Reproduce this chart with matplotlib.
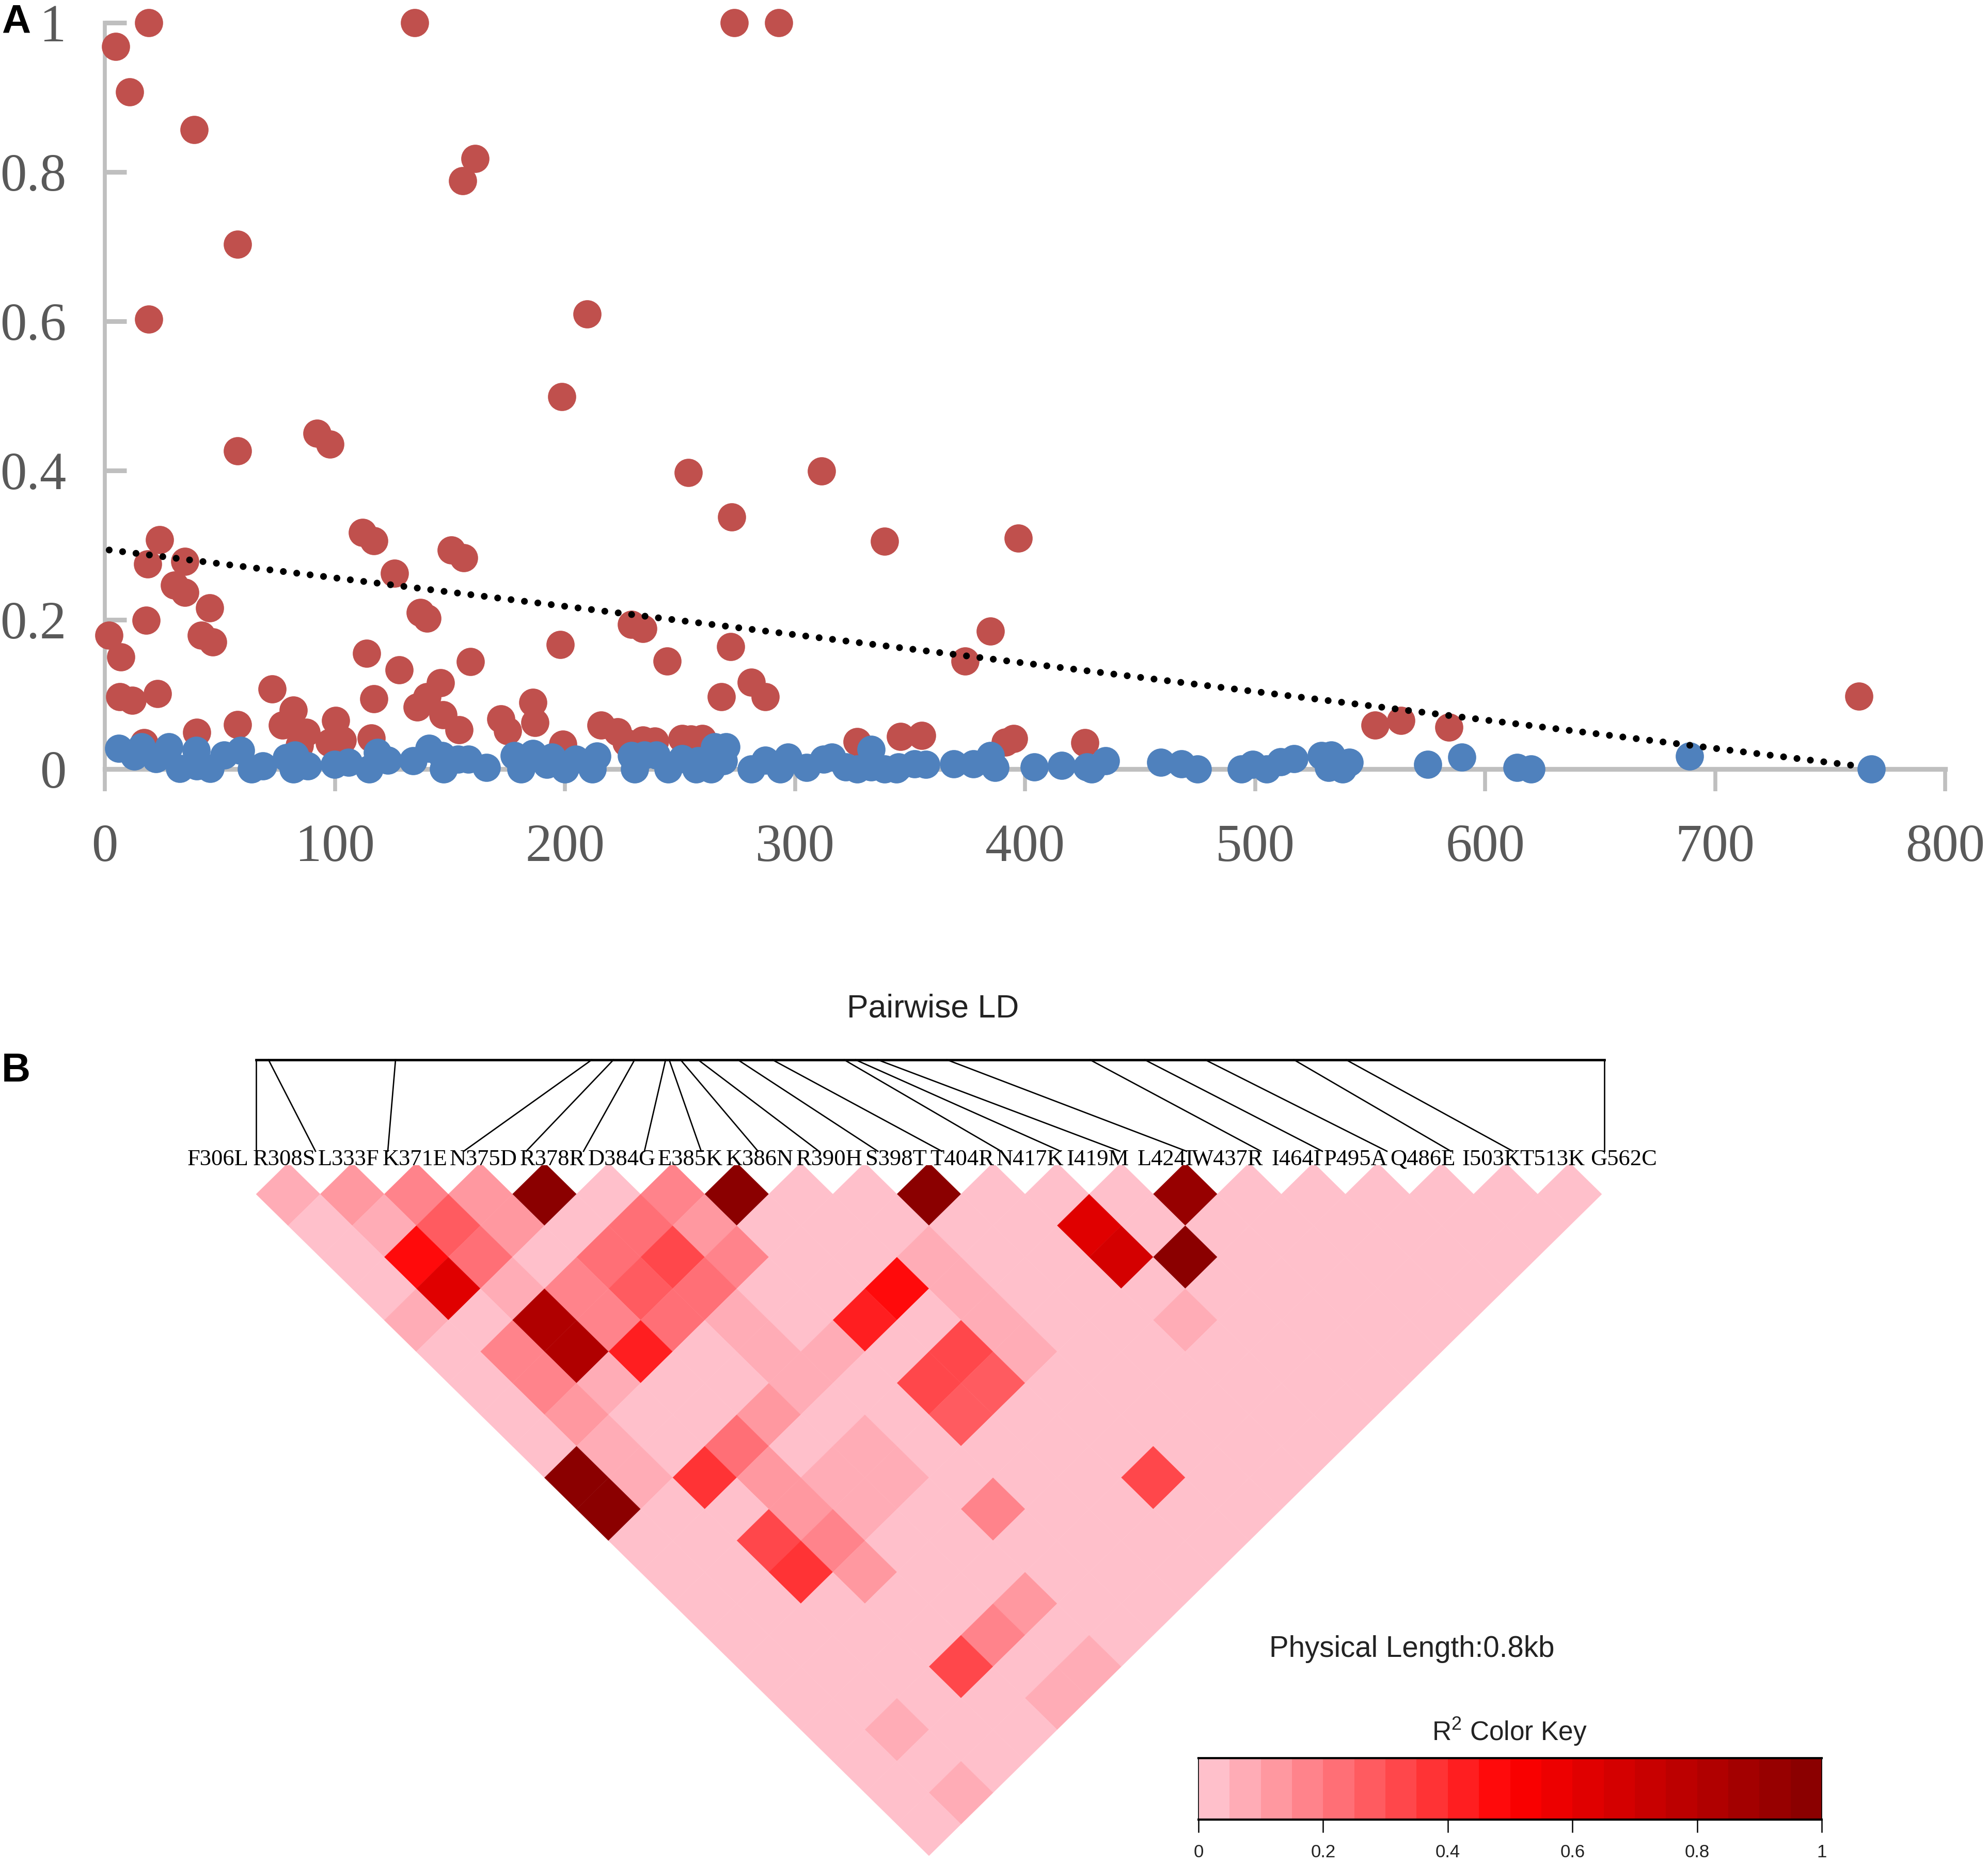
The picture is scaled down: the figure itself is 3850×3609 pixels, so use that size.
"""Panel A: LD decay scatter. Panel B: pairwise LD heatmap with colour key."""
import matplotlib
matplotlib.use("Agg")
import matplotlib.pyplot as plt
import numpy as np
from matplotlib.collections import PolyCollection
from matplotlib.colors import LinearSegmentedColormap

W, H = 3850, 3609

# ---- panel A data ----
red_x = [4.7, 19, 10.7, 38.8, 134.7, 273.6, 292.9, 161, 155.6, 57.6, 19, 209.6,
         198.7, 57.6, 92.3, 97.8, 253.7, 311.6, 272.5, 23.8, 18.6, 34.8, 30.2,
         34.8, 45.6, 17.9, 1.9, 6.9, 41.9, 46.9, 6.5, 12, 22.9, 17.1, 40, 57.7,
         72.8, 81.9, 77.2, 87.5, 100.3, 103.3, 97.7, 84.7, 111.9, 116.9, 150.7,
         156, 126, 137.2, 140, 113.9, 127.9, 159, 116.9, 146, 140, 135.9, 147,
         153.9, 115.8, 172.2, 175, 186, 187, 199, 215.7, 223, 226.6, 234, 239,
         251, 254.7, 259.8, 268, 281, 287, 327, 346, 355, 391.4, 395, 426, 198,
         228.9, 234, 244.4, 339, 397, 385, 374, 272, 552.3, 563.4, 584.3, 762.5]
red_y = [.968, 1, .907, .857, 1, 1, 1, .818, .788, .703, .603, .61,
         .499, .426, .45, .435, .397, .399, .338, .307, .275, .278, .2465,
         .237, .2156, .199, .179, .15, .179, .1705, .097, .092, .101, .0355, .049, .0596,
         .107, .079, .0587, .049, .065, .0386, .0355, .032, .317, .306, .2935,
         .2827, .262, .21, .202, .155, .133, .1437, .094, .1158, .097, .083, .073,
         .0525, .0417, .067, .051, .089, .062, .033, .059, .0496, .035, .0385, .0374,
         .041, .04, .041, .097, .116, .097, .037, .0436, .045, .036, .041, .035, .1668,
         .194, .188, .1446, .305, .3095, .185, .1446, .1637, .059, .065, .056, .0973]

blue_x = [5.95, 12.8, 16, 22.3, 27.8, 32.6, 39.7, 40, 45.8, 51.8, 59, 63.8, 68.7,
          79, 82.5, 82, 88.2, 99.9, 106, 114.9, 118.5, 122.9, 134, 140.9, 147.2,
          146.6, 153.5, 158, 165.9, 178, 181, 186, 192.2, 194.5, 200, 204.8, 214,
          212, 229, 230.3, 234.6, 239.8, 245, 251, 257, 263.6, 258, 265, 270, 269,
          281, 287, 293.6, 297, 305, 312.5, 316, 322, 327, 333, 333, 339, 345, 344,
          352, 357, 369, 377.6, 385, 387, 404, 416, 429, 427, 435, 459, 468, 475,
          494, 499, 505, 511, 517, 528.8, 533, 532, 541, 538, 575, 590, 614, 620,
          689, 768]
blue_y = [.028, .017, .03, .014, .03, .0005, .025, .004, .001, .019, .025, 0, .004,
          .015, .019, 0, .004, .006, .009, 0, .022, .012, .011, .028, 0,
          .018, .013, .013, .002, .018, 0, .021, .006, .016, 0, .013, .017,
          0, .018, 0, .019, .019, 0, .014, 0, 0, .011, .03, .03, .011,
          0, .012, 0, .016, .002, .013, .016, .003, 0, .026, .003, 0, .003, 0,
          .007, .006, .007, .007, .018, .002, .003, .005, 0, .003, .011, .009, .007, 0,
          0, .006, 0, .01, .014, .018, .019, .002, .009, 0, .006, .016, .002, 0,
          .017, 0]

trend_x = [1.9, 759.6]
trend_y = [.2935, .005]

x_ticks = [0, 100, 200, 300, 400, 500, 600, 700, 800]
y_ticks = [0, .2, .4, .6, .8, 1]
y_tick_labels = ["0", "0.2", "0.4", "0.6", "0.8", "1"]

# ---- panel B data ----
snp_names = ["F306L", "R308S", "L333F", "K371E", "N375D", "R378R", "D384G", "E385K",
             "K386N", "R390H", "S398T", "T404R", "N417K", "I419M", "L424I", "W437R",
             "I464I", "P495A", "Q486E", "I503K", "T513K", "G562C"]
# where each SNP sits on the physical-length bar, and where its label sits
bar_px = [496, 520, 766, 1146, 1188, 1229, 1289, 1296, 1318, 1352, 1429, 1496, 1635,
          1657, 1700, 1834, 2111, 2217, 2334, 2506, 2607, 3107]
link_end_px = [496, 611, 751, 898, 1019, 1130, 1248, 1358, 1468, 1586, 1700, 1824,
               1939, 2054, 2169, 2298, 2442, 2561, 2686, 2810, 2930, 3107]
label_px = [422, 550, 675, 804, 936, 1070, 1204, 1337, 1471, 1606, 1735, 1863, 1995,
            2126, 2257, 2377, 2511, 2626, 2755, 2888, 3006, 3145]

BASE_R2 = .02
# non-background cells only: first SNP index, distance to second SNP, r2
pair_first = [0, 1, 2, 3, 4, 6, 7, 10, 14,
              1, 2, 3, 5, 6, 12,
              1, 2, 4, 5, 6, 9, 12, 13,
              1, 2, 3, 4, 5, 8, 9,
              0, 2, 3, 4, 5, 7, 9, 12,
              1, 2, 3, 5, 6, 8, 9,
              1, 2, 5, 7, 8,
              1, 4, 7,
              1, 3, 5,
              0, 1, 2, 3, 4, 5, 9,
              0, 3, 4, 6,
              2, 3,
              2, 3,
              5, 4, 3, 5, 4, 1, 1]
pair_span = [1, 1, 1, 1, 1, 1, 1, 1, 1,
             2, 2, 2, 2, 2, 2,
             3, 3, 3, 3, 3, 3, 3, 3,
             4, 4, 4, 4, 4, 4, 4,
             5, 5, 5, 5, 5, 5, 5, 5,
             6, 6, 6, 6, 6, 6, 6,
             7, 7, 7, 7, 7,
             8, 8, 8,
             9, 9, 9,
             10, 10, 10, 10, 10, 10, 10,
             11, 11, 11, 11,
             12, 12,
             13, 13,
             14, 15, 16, 16, 17, 18, 20]
pair_r2 = [.08, .13, .18, .10, .98, .18, .98, .98, .90,
           .08, .28, .10, .23, .13, .60,
           .45, .20, .23, .33, .18, .08, .68, .98,
           .60, .08, .18, .28, .23, .47, .08,
           .08, .80, .18, .23, .08, .42, .08, .08,
           .18, .83, .42, .08, .08, .33, .08,
           .18, .08, .08, .33, .28,
           .13, .13, .28,
           .08, .23, .08,
           .98, .08, .38, .13, .08, .08, .33,
           .98, .13, .08, .18,
           .33, .18,
           .38, .13,
           .13, .18, .33, .08, .08, .08, .08]
n_snps = len(snp_names)

key_ticks = [0, .2, .4, .6, .8, 1]
key_tick_labels = ["0", "0.2", "0.4", "0.6", "0.8", "1"]
key_levels = np.arange(20)

RED = "#C0504D"
BLUE = "#4F81BD"
AXIS_GREY = "#BFBFBF"
LABEL_GREY = "#595959"
LD_CMAP = LinearSegmentedColormap.from_list("ld", ["#FFC0CB", "#FF0000", "#8B0000"], N=20)

plt.rcParams["mathtext.fontset"] = "custom"
plt.rcParams["mathtext.rm"] = "Liberation Sans"
plt.rcParams["mathtext.default"] = "regular"
SANS = "Liberation Sans"
SERIF = "Liberation Serif"


def area(left, top, right, bottom):
    """Axes rectangle given in picture pixels."""
    return [left / W, 1 - bottom / H, (right - left) / W, (bottom - top) / H]


fig = plt.figure(figsize=(W / 100, H / 100), dpi=100, facecolor="white")

# ---- A: scatter ----
ax = fig.add_axes(area(203, 44, 3767, 1489))
ax.set_xlim(0, 800)
ax.set_ylim(0, 1)
ax.scatter(red_x, red_y, s=1550, color=RED, linewidths=0, clip_on=False, zorder=3)
ax.scatter(blue_x, blue_y, s=1550, color=BLUE, linewidths=0, clip_on=False, zorder=4)
ax.plot(trend_x, trend_y, color="black", lw=9.5, dash_capstyle="round",
        linestyle=(0, (0.001, 1.98)), zorder=5, clip_on=False)
for side in ("top", "right"):
    ax.spines[side].set_visible(False)
ax.spines["left"].set_color(AXIS_GREY)
ax.spines["left"].set_linewidth(5.5)
ax.spines["bottom"].set_color(AXIS_GREY)
ax.spines["bottom"].set_linewidth(6.7)
ax.set_xticks(x_ticks)
ax.set_yticks(y_ticks)
ax.set_yticklabels(y_tick_labels)
ax.tick_params(axis="x", direction="out", length=31, width=5.5, color=AXIS_GREY,
               pad=45, labelsize=74, labelcolor=LABEL_GREY)
ax.tick_params(axis="y", direction="in", length=30, width=6.5, color=AXIS_GREY,
               pad=54, labelsize=74, labelcolor=LABEL_GREY)
for lab in ax.get_xticklabels() + ax.get_yticklabels():
    lab.set_fontfamily(SERIF)

# ---- B: LD triangle, one diamond per SNP pair ----
lx = fig.add_axes(area(496, 2256, 3102, 3593))
lx.set_xlim(0, n_snps - 1)
lx.set_ylim(n_snps, 0.08)
lx.axis("off")
cells = {(i, s): BASE_R2 for s in range(1, n_snps) for i in range(n_snps - s)}
cells.update({(i, s): v for i, s, v in zip(pair_first, pair_span, pair_r2)})
polys = []
vals = []
for (i, s), v in cells.items():
    c = i + s / 2
    polys.append([(c - .5, s), (c, s - 1), (c + .5, s), (c, s + 1)])
    vals.append(v)
coll = PolyCollection(polys, array=np.array(vals), cmap=LD_CMAP, clim=(0, 1),
                      edgecolors="face", linewidths=0.3)
lx.add_collection(coll)

# physical bar and links to the SNP labels, drawn in picture pixels
ox = fig.add_axes([0, 0, 1, 1], zorder=-1)
ox.set_xlim(0, W)
ox.set_ylim(H, 0)
ox.axis("off")
ox.plot([bar_px[0], bar_px[-1]], [2052, 2052], color="black", lw=3.4)
for top_x, end_x in zip(bar_px, link_end_px):
    ox.plot([top_x, end_x], [2052, 2229], color="black", lw=1.9)
for x, name in zip(label_px, snp_names):
    fig.text(x / W, 1 - 2256 / H, name, ha="center", va="baseline", fontsize=32,
             family=SERIF, color="black")

fig.text(1807 / W, 1 - 1953 / H, "Pairwise LD", ha="center", va="center", fontsize=45,
         family=SANS, color="#222222")
fig.text(2734 / W, 1 - 3193 / H, "Physical Length:0.8kb", ha="center", va="center",
         fontsize=40.7, family=SANS, color="#222222")
fig.text(2923 / W, 1 - 3353 / H, "R$^{2}$ Color Key", ha="center", va="center",
         fontsize=37, family=SANS, color="#222222")

# ---- colour key ----
kx = fig.add_axes(area(2321, 3404, 3528, 3523))
kx.pcolormesh(np.linspace(0, 1, 21), [0, 1], key_levels[np.newaxis, :], cmap=LD_CMAP,
              vmin=0, vmax=19)
kx.set_xlim(0, 1)
kx.set_ylim(0, 1)
kx.set_yticks([])
kx.set_xticks(key_ticks)
kx.set_xticklabels(key_tick_labels, fontsize=25, family=SANS, color="#222222")
kx.tick_params(axis="x", length=18, width=1.8, pad=16)
for side, sp in kx.spines.items():
    sp.set_linewidth(3 if side in ("top", "bottom") else 1.2)

# panel letters
fig.text(3 / W, 1 - 43 / H, "A", ha="left", va="center", fontsize=56, family=SANS,
         fontweight="bold", color="black")
fig.text(3 / W, 1 - 2074 / H, "B", ha="left", va="center", fontsize=56, family=SANS,
         fontweight="bold", color="black")

fig.savefig("out.png", dpi=100, facecolor="white")
